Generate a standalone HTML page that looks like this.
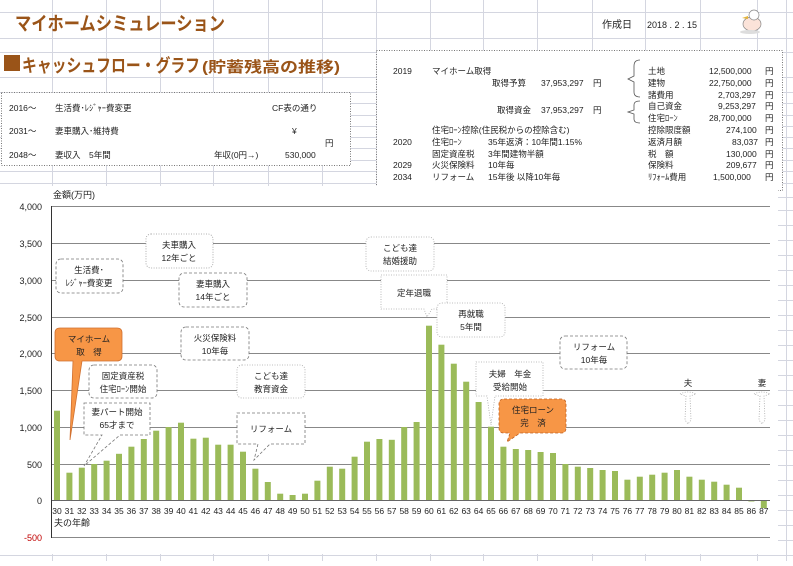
<!DOCTYPE html>
<html><head><meta charset="utf-8"><style>
body{margin:0;width:793px;height:561px;overflow:hidden;background:#fff;font-family:"Liberation Sans","Noto Sans CJK JP",sans-serif}
</style></head><body>
<svg width="793" height="561" xmlns="http://www.w3.org/2000/svg" font-family="Liberation Sans, Noto Sans CJK JP, sans-serif">
<g stroke="#d4d6e0" stroke-width="1">
<line x1="52.5" y1="0" x2="52.5" y2="561"/><line x1="106.5" y1="0" x2="106.5" y2="561"/><line x1="160.5" y1="0" x2="160.5" y2="561"/><line x1="213.5" y1="0" x2="213.5" y2="561"/><line x1="268.5" y1="0" x2="268.5" y2="561"/><line x1="322.5" y1="0" x2="322.5" y2="561"/><line x1="376.5" y1="0" x2="376.5" y2="561"/><line x1="430.5" y1="0" x2="430.5" y2="561"/><line x1="483.5" y1="0" x2="483.5" y2="561"/><line x1="537.5" y1="0" x2="537.5" y2="561"/><line x1="592.5" y1="0" x2="592.5" y2="561"/><line x1="645.5" y1="0" x2="645.5" y2="561"/><line x1="700.5" y1="0" x2="700.5" y2="561"/><line x1="757.5" y1="0" x2="757.5" y2="561"/><line x1="786.5" y1="0" x2="786.5" y2="561"/>
<line x1="0" y1="12.5" x2="793" y2="12.5"/><line x1="0" y1="38.5" x2="793" y2="38.5"/><line x1="0" y1="52.5" x2="793" y2="52.5"/><line x1="0" y1="77.5" x2="793" y2="77.5"/><line x1="0" y1="92.5" x2="793" y2="92.5"/><line x1="0" y1="103.5" x2="793" y2="103.5"/><line x1="0" y1="115.5" x2="793" y2="115.5"/><line x1="0" y1="126.5" x2="793" y2="126.5"/><line x1="0" y1="137.5" x2="793" y2="137.5"/><line x1="0" y1="148.5" x2="793" y2="148.5"/><line x1="0" y1="160.5" x2="793" y2="160.5"/><line x1="0" y1="171.5" x2="793" y2="171.5"/><line x1="0" y1="183.5" x2="793" y2="183.5"/><line x1="0" y1="197.5" x2="793" y2="197.5"/>
<line x1="0" y1="555.5" x2="793" y2="555.5"/>
<line x1="778" y1="210.5" x2="793" y2="210.5"/><line x1="778" y1="225.5" x2="793" y2="225.5"/><line x1="778" y1="240.5" x2="793" y2="240.5"/><line x1="778" y1="255.5" x2="793" y2="255.5"/><line x1="778" y1="270.5" x2="793" y2="270.5"/><line x1="778" y1="285.5" x2="793" y2="285.5"/><line x1="778" y1="300.5" x2="793" y2="300.5"/><line x1="778" y1="315.5" x2="793" y2="315.5"/><line x1="778" y1="330.5" x2="793" y2="330.5"/><line x1="778" y1="345.5" x2="793" y2="345.5"/><line x1="778" y1="360.5" x2="793" y2="360.5"/><line x1="778" y1="375.5" x2="793" y2="375.5"/><line x1="778" y1="390.5" x2="793" y2="390.5"/><line x1="778" y1="405.5" x2="793" y2="405.5"/><line x1="778" y1="420.5" x2="793" y2="420.5"/><line x1="778" y1="435.5" x2="793" y2="435.5"/><line x1="778" y1="450.5" x2="793" y2="450.5"/><line x1="778" y1="465.5" x2="793" y2="465.5"/><line x1="778" y1="480.5" x2="793" y2="480.5"/><line x1="778" y1="495.5" x2="793" y2="495.5"/><line x1="778" y1="510.5" x2="793" y2="510.5"/><line x1="778" y1="525.5" x2="793" y2="525.5"/><line x1="778" y1="540.5" x2="793" y2="540.5"/>
</g>
<!-- header -->
<text x="15" y="30" font-size="19" font-weight="bold" fill="#9a5418" textLength="210" lengthAdjust="spacingAndGlyphs">マイホームシミュレーション</text>
<rect x="4" y="55" width="16" height="16" fill="#9a5418"/>
<text x="22" y="72" font-size="18" font-weight="bold" fill="#9a5418" textLength="178" lengthAdjust="spacingAndGlyphs">キャッシュフロー・グラフ</text>
<text x="202" y="72" font-size="15" font-weight="bold" fill="#9a5418" textLength="138" lengthAdjust="spacingAndGlyphs">(貯蓄残高の推移)</text>
<text x="602" y="28" font-size="10" fill="#222">作成日</text>
<text x="647" y="28" font-size="9" fill="#222">2018 . 2 . 15</text>
<g transform="translate(740,6)"><ellipse cx="12" cy="18" rx="9" ry="7" fill="#fbe3d9" stroke="#888" stroke-width="0.7"/><circle cx="14" cy="9" r="5" fill="#fff" stroke="#888" stroke-width="0.7"/><path d="M8 10 L2 12 L8 13Z" fill="#e5b53a"/><ellipse cx="10" cy="26" rx="10" ry="2" fill="#ddd"/></g>
<!-- left box -->
<rect x="1.5" y="92.5" width="349" height="73" fill="#fff" stroke="#777" stroke-dasharray="1,1.5"/>
<g font-size="8.5" fill="#222">
<text x="9" y="111">2016～</text><text x="55" y="111">生活費･ﾚｼﾞｬｰ費変更</text><text x="272" y="111">CF表の通り</text>
<text x="9" y="134">2031～</text><text x="55" y="134">妻車購入･維持費</text><text x="292" y="134">¥</text>
<text x="325" y="146">円</text>
<text x="9" y="158">2048～</text><text x="55" y="158">妻収入　5年間</text><text x="214" y="158">年収(0円→)</text><text x="285" y="158">530,000</text>
</g>
<!-- right box -->
<rect x="376.5" y="50.5" width="406" height="140" fill="#fff" stroke="#777" stroke-dasharray="1,1.5"/>
<g font-size="8.5" fill="#222">
<text x="393" y="74">2019</text><text x="432" y="74">マイホーム取得</text>
<text x="492" y="86">取得予算</text><text x="541" y="86">37,953,297</text><text x="593" y="86">円</text>
<text x="497" y="113">取得資金</text><text x="541" y="113">37,953,297</text><text x="593" y="113">円</text>
<text x="648" y="74">土地</text><text x="709" y="74">12,500,000</text><text x="765" y="74">円</text>
<text x="648" y="86">建物</text><text x="709" y="86">22,750,000</text><text x="765" y="86">円</text>
<text x="648" y="98">諸費用</text><text x="718" y="98">2,703,297</text><text x="765" y="98">円</text>
<text x="648" y="109">自己資金</text><text x="718" y="109">9,253,297</text><text x="765" y="109">円</text>
<text x="648" y="121">住宅ﾛｰﾝ</text><text x="709" y="121">28,700,000</text><text x="765" y="121">円</text>
<text x="432" y="133">住宅ﾛｰﾝ控除(住民税からの控除含む)</text>
<text x="648" y="133">控除限度額</text><text x="726" y="133">274,100</text><text x="765" y="133">円</text>
<text x="393" y="145">2020</text><text x="432" y="145">住宅ﾛｰﾝ</text><text x="488" y="145">35年返済：10年間1.15%</text>
<text x="648" y="145">返済月額</text><text x="732" y="145">83,037</text><text x="765" y="145">円</text>
<text x="432" y="157">固定資産税</text><text x="488" y="157">3年間建物半額</text>
<text x="648" y="157">税　額</text><text x="726" y="157">130,000</text><text x="765" y="157">円</text>
<text x="393" y="168">2029</text><text x="432" y="168">火災保険料</text><text x="488" y="168">10年毎</text>
<text x="648" y="168">保険料</text><text x="726" y="168">209,677</text><text x="765" y="168">円</text>
<text x="393" y="180">2034</text><text x="432" y="180">リフォーム</text><text x="488" y="180">15年後 以降10年毎</text>
<text x="648" y="180">ﾘﾌｫｰﾑ費用</text><text x="713" y="180">1,500,000</text><text x="765" y="180">円</text>
</g>
<path d="M640 60 Q634 60 634 66 L634 76 L628 79 L634 82 L634 92 Q634 97 640 97" fill="none" stroke="#555" stroke-width="0.8"/>
<path d="M640 101 Q634 101 634 105 L634 110 L628 112 L634 114 L634 119 Q634 123 640 123" fill="none" stroke="#555" stroke-width="0.8"/>
<!-- chart area -->
<rect x="0" y="186" width="778" height="368" fill="#fff"/>
<text x="53" y="198" font-size="9" fill="#222">金額(万円)</text>
<g stroke="#888" stroke-width="1">
<line x1="52" y1="206.5" x2="770" y2="206.5"/><line x1="52" y1="243.5" x2="770" y2="243.5"/><line x1="52" y1="280.5" x2="770" y2="280.5"/><line x1="52" y1="317.5" x2="770" y2="317.5"/><line x1="52" y1="353.5" x2="770" y2="353.5"/><line x1="52" y1="390.5" x2="770" y2="390.5"/><line x1="52" y1="427.5" x2="770" y2="427.5"/><line x1="52" y1="464.5" x2="770" y2="464.5"/><line x1="52" y1="537.5" x2="770" y2="537.5"/>
</g>
<line x1="51.5" y1="206" x2="51.5" y2="538" stroke="#333"/>
<g font-size="9" fill="#222" text-anchor="end">
<text x="42" y="210">4,000</text><text x="42" y="247">3,500</text><text x="42" y="284">3,000</text><text x="42" y="321">2,500</text><text x="42" y="357">2,000</text><text x="42" y="394">1,500</text><text x="42" y="431">1,000</text><text x="42" y="468">500</text><text x="42" y="504">0</text><text x="42" y="541" fill="#c00000">-500</text>
</g>
<g fill="#9bbb59">
<rect x="54" y="410.7" width="6" height="89.3"/><rect x="66.4" y="472.7" width="6" height="27.3"/><rect x="78.8" y="467.7" width="6" height="32.3"/><rect x="91.2" y="464" width="6" height="36"/><rect x="103.6" y="460.7" width="6" height="39.3"/><rect x="116" y="453.8" width="6" height="46.2"/><rect x="128.4" y="446.7" width="6" height="53.3"/><rect x="140.8" y="439" width="6" height="61"/><rect x="153.2" y="430.7" width="6" height="69.3"/><rect x="165.6" y="427" width="6" height="73"/><rect x="178" y="422.7" width="6" height="77.3"/><rect x="190.4" y="438.7" width="6" height="61.3"/><rect x="202.8" y="437.7" width="6" height="62.3"/><rect x="215.2" y="444.7" width="6" height="55.3"/><rect x="227.6" y="444.7" width="6" height="55.3"/><rect x="240" y="451.7" width="6" height="48.3"/><rect x="252.4" y="468.7" width="6" height="31.3"/><rect x="264.8" y="482" width="6" height="18"/><rect x="277.2" y="493.7" width="6" height="6.3"/><rect x="289.6" y="495" width="6" height="5"/><rect x="302" y="493.7" width="6" height="6.3"/><rect x="314.4" y="480.7" width="6" height="19.3"/><rect x="326.8" y="466.7" width="6" height="33.3"/><rect x="339.2" y="468.7" width="6" height="31.3"/><rect x="351.6" y="456.7" width="6" height="43.3"/><rect x="364" y="441.7" width="6" height="58.3"/><rect x="376.4" y="439" width="6" height="61"/><rect x="388.8" y="439.8" width="6" height="60.2"/><rect x="401.2" y="427" width="6" height="73"/><rect x="413.6" y="422" width="6" height="78"/><rect x="426" y="325.7" width="6" height="174.3"/><rect x="438.4" y="344.7" width="6" height="155.3"/><rect x="450.8" y="363.7" width="6" height="136.3"/><rect x="463.2" y="381.7" width="6" height="118.3"/><rect x="475.6" y="402" width="6" height="98"/><rect x="488" y="426.7" width="6" height="73.3"/><rect x="500.4" y="446.7" width="6" height="53.3"/><rect x="512.8" y="449" width="6" height="51"/><rect x="525.2" y="450" width="6" height="50"/><rect x="537.6" y="452" width="6" height="48"/><rect x="550" y="453" width="6" height="47"/><rect x="562.4" y="464" width="6" height="36"/><rect x="574.8" y="466.7" width="6" height="33.3"/><rect x="587.2" y="468" width="6" height="32"/><rect x="599.6" y="470" width="6" height="30"/><rect x="612" y="471" width="6" height="29"/><rect x="624.4" y="479.7" width="6" height="20.3"/><rect x="636.8" y="476.7" width="6" height="23.3"/><rect x="649.2" y="474.7" width="6" height="25.3"/><rect x="661.6" y="472.7" width="6" height="27.3"/><rect x="674" y="470" width="6" height="30"/><rect x="686.4" y="476.7" width="6" height="23.3"/><rect x="698.8" y="479.7" width="6" height="20.3"/><rect x="711.2" y="481.7" width="6" height="18.3"/><rect x="723.6" y="484.7" width="6" height="15.3"/><rect x="736" y="487.7" width="6" height="12.3"/><rect x="748.4" y="500" width="6" height="1.5"/><rect x="760.8" y="500" width="6" height="8"/>
</g>
<line x1="52" y1="500.5" x2="770" y2="500.5" stroke="#666"/>
<g font-size="8.5" fill="#222" text-anchor="middle">
<text x="57" y="514">30</text><text x="69.4" y="514">31</text><text x="81.8" y="514">32</text><text x="94.2" y="514">33</text><text x="106.6" y="514">34</text><text x="119" y="514">35</text><text x="131.4" y="514">36</text><text x="143.8" y="514">37</text><text x="156.2" y="514">38</text><text x="168.6" y="514">39</text><text x="181" y="514">40</text><text x="193.4" y="514">41</text><text x="205.8" y="514">42</text><text x="218.2" y="514">43</text><text x="230.6" y="514">44</text><text x="243" y="514">45</text><text x="255.4" y="514">46</text><text x="267.8" y="514">47</text><text x="280.2" y="514">48</text><text x="292.6" y="514">49</text><text x="305" y="514">50</text><text x="317.4" y="514">51</text><text x="329.8" y="514">52</text><text x="342.2" y="514">53</text><text x="354.6" y="514">54</text><text x="367" y="514">55</text><text x="379.4" y="514">56</text><text x="391.8" y="514">57</text><text x="404.2" y="514">58</text><text x="416.6" y="514">59</text><text x="429" y="514">60</text><text x="441.4" y="514">61</text><text x="453.8" y="514">62</text><text x="466.2" y="514">63</text><text x="478.6" y="514">64</text><text x="491" y="514">65</text><text x="503.4" y="514">66</text><text x="515.8" y="514">67</text><text x="528.2" y="514">68</text><text x="540.6" y="514">69</text><text x="553" y="514">70</text><text x="565.4" y="514">71</text><text x="577.8" y="514">72</text><text x="590.2" y="514">73</text><text x="602.6" y="514">74</text><text x="615" y="514">75</text><text x="627.4" y="514">76</text><text x="639.8" y="514">77</text><text x="652.2" y="514">78</text><text x="664.6" y="514">79</text><text x="677" y="514">80</text><text x="689.4" y="514">81</text><text x="701.8" y="514">82</text><text x="714.2" y="514">83</text><text x="726.6" y="514">84</text><text x="739" y="514">85</text><text x="751.4" y="514">86</text><text x="763.8" y="514">87</text>
</g>
<text x="54" y="526" font-size="9" fill="#222">夫の年齢</text>
<!-- callouts -->
<g font-size="8.5" fill="#222" text-anchor="middle" stroke-width="0.8">
<rect x="56" y="259" width="67" height="34" rx="5" fill="#fff" stroke="#777" stroke-dasharray="3,2"/><text x="89" y="273" stroke="none">生活費･</text><text x="89" y="286" stroke="none">ﾚｼﾞｬｰ費変更</text>
<rect x="146" y="234" width="67" height="34" rx="5" fill="#fff" stroke="#999" stroke-dasharray="1,1.5"/><text x="179" y="248" stroke="none">夫車購入</text><text x="179" y="261" stroke="none">12年ごと</text>
<rect x="179" y="273" width="68" height="34" rx="5" fill="#fff" stroke="#777" stroke-dasharray="3,2"/><text x="213" y="287" stroke="none">妻車購入</text><text x="213" y="300" stroke="none">14年ごと</text>
<path d="M55 333 Q55 328 60 328 L117 328 Q122 328 122 333 L122 356 Q122 361 117 361 L82 361 L70 440 L73 361 L60 361 Q55 361 55 356Z" fill="#f79646" stroke="#d07030"/><text x="89" y="342" stroke="none">マイホーム</text><text x="89" y="355" stroke="none">取　得</text>
<rect x="181" y="327" width="68" height="33" rx="5" fill="#fff" stroke="#777" stroke-dasharray="3,2"/><text x="215" y="341" stroke="none">火災保険料</text><text x="215" y="354" stroke="none">10年毎</text>
<rect x="89" y="365" width="68" height="33" rx="5" fill="#fff" stroke="#777" stroke-dasharray="3,2"/><text x="123" y="379" stroke="none">固定資産税</text><text x="123" y="392" stroke="none">住宅ﾛｰﾝ開始</text>
<rect x="237" y="365" width="68" height="33" rx="5" fill="#fff" stroke="#aaa" stroke-dasharray="1,1.5"/><text x="271" y="379" stroke="none">こども達</text><text x="271" y="392" stroke="none">教育資金</text>
<path d="M84 403 L150 403 L150 435 L120 435 L84 466 L102 435 L84 435Z" fill="#fff" stroke="#777" stroke-dasharray="3,2"/><text x="117" y="415" stroke="none">妻パート開始</text><text x="117" y="428" stroke="none">65才まで</text>
<path d="M237 413 L305 413 L305 444 L270 444 L254 460 L258 444 L237 444Z" fill="#fff" stroke="#777" stroke-dasharray="3,2"/><text x="271" y="432" stroke="none">リフォーム</text>
<rect x="366" y="237" width="68" height="34" rx="5" fill="#fff" stroke="#aaa" stroke-dasharray="1,1.5"/><text x="400" y="251" stroke="none">こども達</text><text x="400" y="264" stroke="none">結婚援助</text>
<path d="M381 275 L447 275 L447 309 L432 309 L427 317 L424 309 L381 309Z" fill="#fff" stroke="#aaa" stroke-dasharray="1,1.5"/><text x="414" y="296" stroke="none">定年退職</text>
<rect x="437" y="303" width="68" height="34" rx="5" fill="#fff" stroke="#aaa" stroke-dasharray="1,1.5"/><text x="471" y="317" stroke="none">再就職</text><text x="471" y="330" stroke="none">5年間</text>
<rect x="560" y="336" width="67" height="33" rx="5" fill="#fff" stroke="#777" stroke-dasharray="3,2"/><text x="594" y="350" stroke="none">リフォーム</text><text x="594" y="363" stroke="none">10年毎</text>
<path d="M476 362 L543 362 L543 396 L495 396 L491 425 L487 396 L476 396Z" fill="#fff" stroke="#aaa" stroke-dasharray="1,1.5"/><text x="510" y="377" stroke="none">夫婦　年金</text><text x="510" y="390" stroke="none">受給開始</text>
<path d="M504 399 L561 399 Q566 399 566 404 L566 428 Q566 433 561 433 L520 433 L507 442 L510 433 L504 433 Q499 433 499 428 L499 404 Q499 399 504 399Z" fill="#f79646" stroke="#c06020" stroke-dasharray="3,2"/><text x="533" y="413" stroke="none">住宅ローン</text><text x="533" y="426" stroke="none">完　済</text>
<text x="688" y="386" stroke="none">夫</text><text x="762" y="386" stroke="none">妻</text>
<path d="M680 394 Q688 390 696 394 L690 396 L691 420 L688 424 L685 420 L686 396Z" fill="none" stroke="#aaa" stroke-dasharray="1,1.5"/>
<path d="M754 394 Q762 390 770 394 L764 396 L765 420 L762 424 L759 420 L760 396Z" fill="none" stroke="#aaa" stroke-dasharray="1,1.5"/>
</g>
</svg>
</body></html>
